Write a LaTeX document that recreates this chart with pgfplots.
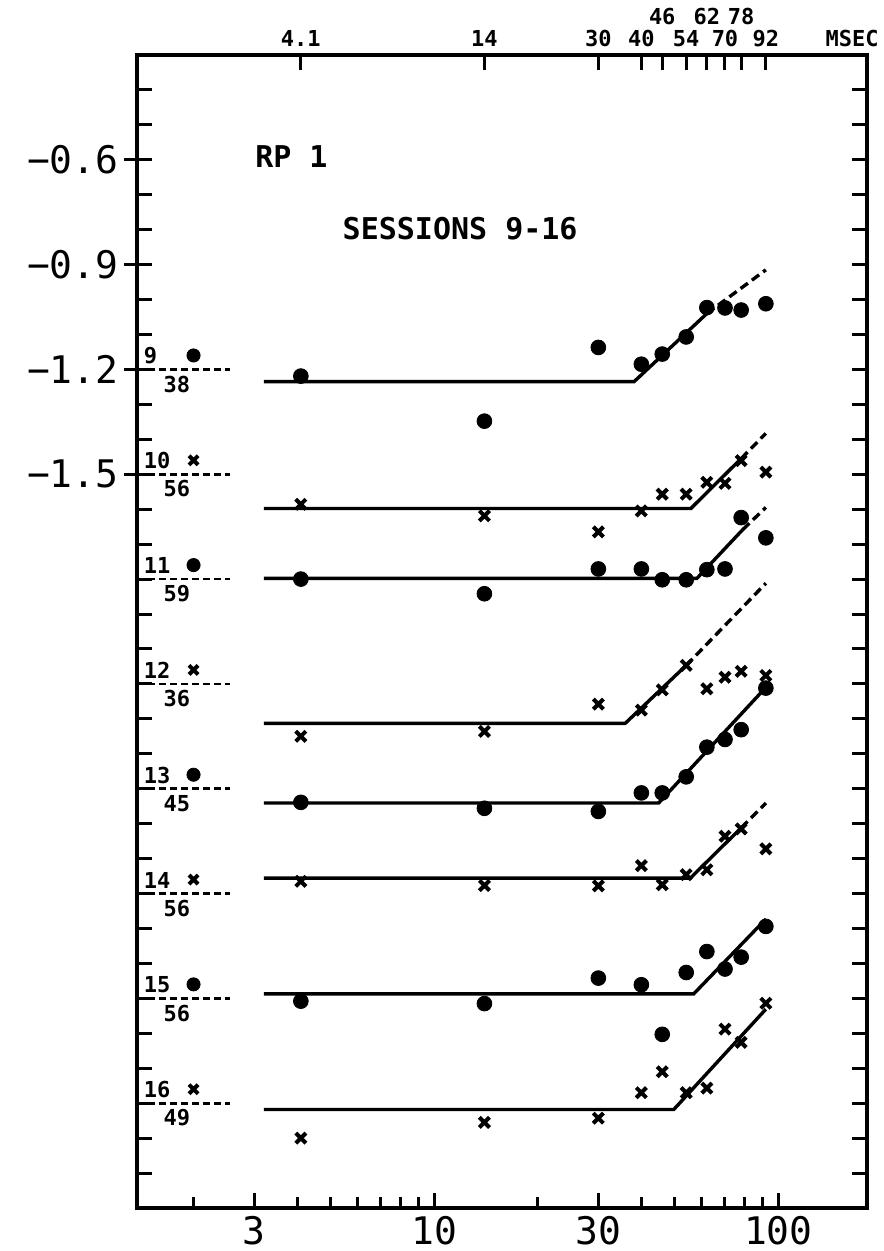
\documentclass[border=0pt]{standalone}
\usepackage{fontspec}
\usepackage{pgfplots}
\pgfplotsset{compat=1.18}
\newfontfamily\pf{DejaVu Sans Mono}
\newcommand\bigf{\pf\fontsize{19}{19}\selectfont}
\newcommand\smf{\pf\bfseries\fontsize{11}{12}\selectfont}
\newcommand\midf{\pf\bfseries\fontsize{15}{16}\selectfont}

\pgfplotsset{
  dots/.style={only marks, mark=*, mark size=3.7pt, black},
  crs/.style={only marks, mark=x, mark size=3.6pt, black, line width=2pt},
  fit/.style={no marks, black, line width=1.7pt},
  dfit/.style={no marks, black, line width=1.7pt, dash pattern=on 4.5pt off 2.5pt},
  ref/.style={no marks, black, line width=1.4pt, dash pattern=on 3.5pt off 2pt},
}

\begin{document}
\begin{tikzpicture}
\useasboundingbox (0,0) rectangle (441.5pt,625.5pt);
\begin{axis}[
  at={(68.5pt,21.5pt)}, anchor=south west, scale only axis,
  width=365pt, height=576.5pt,
  xmode=log, xmin=1.37, xmax=181, ymin=-3.6, ymax=-0.3,
  clip=false,
  axis line style={line width=1.9pt},
  every tick/.style={line width=1.5pt, black},
  tick align=inside,
  xtick pos=left, ytick pos=both,
  xtick={3,10,30,100}, xticklabels={3,10,30,100},
  minor xtick={2,4,5,6,7,8,9,20,40,50,60,70,80,90},
  major tick length=7.5pt, minor tick length=5.5pt,
  ytick={-3.5,-3.4,-3.3,-3.2,-3.1,-3.0,-2.9,-2.8,-2.7,-2.6,-2.5,-2.4,-2.3,-2.2,-2.1,-2.0,-1.9,-1.8,-1.7,-1.6,-1.5,-1.4,-1.3,-1.2,-1.1,-1.0,-0.9,-0.8,-0.7,-0.6,-0.5,-0.4},
  yticklabels={,,,,,,,,,,,,,,,,,,,,−1.5,,,−1.2,,,−0.9,,,−0.6,,},
  yticklabel style={font=\bigf, inner sep=0pt, xshift=-9pt},
  xticklabel style={font=\bigf, inner sep=0pt, yshift=-4pt},
]
% session 9
\addplot[dots] coordinates {(4.1,-1.219) (14,-1.348) (30,-1.137) (40,-1.185) (46,-1.156) (54,-1.107) (62,-1.023) (70,-1.024) (78,-1.030) (92,-1.012)};
\addplot[fit] coordinates {(3.2,-1.235) (38.1,-1.235) (62,-1.04)};
\addplot[dfit] coordinates {(62,-1.04) (92,-0.915)};
% session 10
\addplot[crs] coordinates {(4.1,-1.586) (14,-1.619) (30,-1.665) (40,-1.605) (46,-1.557) (54,-1.557) (62,-1.523) (70,-1.526) (78,-1.461) (92,-1.494)};
\addplot[fit] coordinates {(3.2,-1.598) (55.7,-1.598) (78,-1.455)};
\addplot[dfit] coordinates {(78,-1.455) (92,-1.383)};
% session 11
\addplot[dots] coordinates {(4.1,-1.8) (14,-1.842) (30,-1.771) (40,-1.771) (46,-1.802) (54,-1.802) (62,-1.773) (70,-1.771) (78,-1.624) (92,-1.682)};
\addplot[fit] coordinates {(3.2,-1.798) (58,-1.798) (78.9,-1.658)};
\addplot[dfit] coordinates {(78.9,-1.658) (92,-1.595)};
% session 12
\addplot[crs] coordinates {(4.1,-2.250) (14,-2.236) (30,-2.158) (40,-2.175) (46,-2.117) (54,-2.047) (62,-2.114) (70,-2.081) (78,-2.064) (92,-2.076)};
\addplot[fit] coordinates {(3.2,-2.213) (35.9,-2.213) (54,-2.047)};
\addplot[dfit] coordinates {(54,-2.047) (92,-1.812)};
% session 13
\addplot[dots] coordinates {(4.1,-2.439) (14,-2.456) (30,-2.465) (40,-2.412) (46,-2.412) (54,-2.366) (62,-2.281) (70,-2.259) (78,-2.231) (92,-2.112)};
\addplot[fit] coordinates {(3.2,-2.441) (44.9,-2.441) (92,-2.11)};
% session 14
\addplot[crs] coordinates {(4.1,-2.665) (14,-2.677) (30,-2.678) (40,-2.620) (46,-2.675) (54,-2.646) (62,-2.632) (70,-2.536) (78,-2.515) (92,-2.572)};
\addplot[fit] coordinates {(3.2,-2.656) (55.5,-2.656) (78,-2.512)};
\addplot[dfit] coordinates {(78,-2.512) (92,-2.441)};
% session 15
\addplot[dots] coordinates {(4.1,-3.008) (14,-3.015) (30,-2.942) (40,-2.961) (46,-3.103) (54,-2.926) (62,-2.866) (70,-2.916) (78,-2.882) (92,-2.794)};
\addplot[fit] coordinates {(3.2,-2.987) (56.8,-2.987) (92,-2.773)};
% session 16
\addplot[crs] coordinates {(4.1,-3.40) (14,-3.355) (30,-3.343) (40,-3.27) (46,-3.21) (54,-3.27) (62,-3.257) (70,-3.088) (78,-3.126) (92,-3.014)};
\addplot[fit] coordinates {(3.2,-3.318) (49.7,-3.318) (92,-3.031)};

% key markers at left
\addplot[dots, mark size=3.3pt] coordinates {(2,-1.16) (2,-1.76) (2,-2.36) (2,-2.96)};
\addplot[crs, mark size=3.2pt] coordinates {(2,-1.46) (2,-2.06) (2,-2.66) (2,-3.26)};
% reference dashed levels
\addplot[ref] coordinates {(1.37,-1.2) (2.55,-1.2)};
\addplot[ref] coordinates {(1.37,-1.5) (2.55,-1.5)};
\addplot[ref] coordinates {(1.37,-1.8) (2.55,-1.8)};
\addplot[ref] coordinates {(1.37,-2.1) (2.55,-2.1)};
\addplot[ref] coordinates {(1.37,-2.4) (2.55,-2.4)};
\addplot[ref] coordinates {(1.37,-2.7) (2.55,-2.7)};
\addplot[ref] coordinates {(1.37,-3.0) (2.55,-3.0)};
\addplot[ref] coordinates {(1.37,-3.3) (2.55,-3.3)};

\foreach \lv/\n/\m in {-1.2/9/38,-1.5/10/56,-1.8/11/59,-2.1/12/36,-2.4/13/45,-2.7/14/56,-3.0/15/56,-3.3/16/49}{
  \edef\tmp{\noexpand\node[font=\noexpand\smf, anchor=south west, inner sep=0pt] at (axis cs:1.43,\lv) [yshift=2.5pt] {\n};
  \noexpand\node[font=\noexpand\smf, anchor=north, inner sep=0pt] at (axis cs:1.79,\lv) [yshift=-3pt] {\m};}
  \tmp
}
\foreach \lv in {-0.6,-0.9,-1.2,-1.5}{
  \edef\tmp{\noexpand\draw[line width=1.5pt] (axis cs:1.37,\lv) -- ++(-6.5pt,0pt);}
  \tmp
}
\node[font=\midf] at (axis cs:3.85,-0.592) {RP 1};
\node[font=\midf] at (axis cs:11.9,-0.796) {SESSIONS 9-16};
\end{axis}

\begin{axis}[
  at={(68.5pt,21.5pt)}, anchor=south west, scale only axis,
  width=365pt, height=576.5pt,
  xmode=log, xmin=1.37, xmax=181, ymin=-3.6, ymax=-0.3,
  clip=false,
  axis line style={line width=1.9pt},
  every tick/.style={line width=1.5pt, black},
  tick align=inside,
  xtick pos=right, xticklabel pos=right,
  ytick=\empty, minor xtick={},
  major tick length=7.5pt,
  xtick={4.1,14,30,40,46,54,62,70,78,92},
  xticklabels={4.1,14,30,40,\raisebox{11pt}{46},54,\raisebox{11pt}{62},70,\raisebox{11pt}{78},92},
  xticklabel style={font=\smf, inner sep=0pt, yshift=4pt},
]
\node[font=\smf, anchor=south east, inner sep=0pt] at (rel axis cs:1,1) [xshift=6pt, yshift=4pt] {MSEC};
\end{axis}
\end{tikzpicture}
\end{document}
